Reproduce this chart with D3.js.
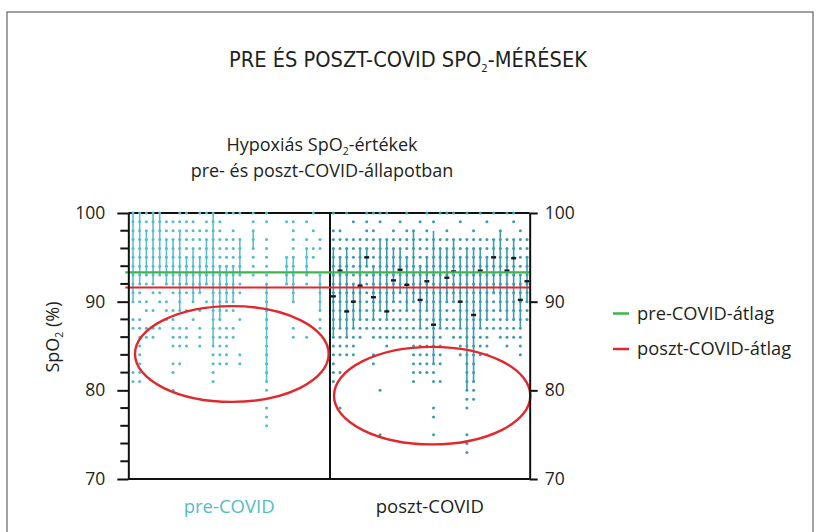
<!DOCTYPE html>
<html>
<head>
<meta charset="utf-8">
<script src="https://cdn.jsdelivr.net/npm/d3@7"></script>
<style>
    body { margin: 0; background: #fff; }
    text { font-family: "Open Sans", "Noto Sans", sans-serif; fill: #231f20; }
</style>
</head>
<body>
<div id="spo2Chart"></div>
<script>
// Readings per patient column: "a-b" means every whole value from a down to b
var preDots = [
    "100-90,88,87,82,81", "100-90,88-81", "100-92,90,89,87,86", "100-91,89,87,86", "100-93,91,90,87",
    "99-92,90,89,88", "99-91,89-85,83,82,80", "100-89,87,86,85,83", "100-91,89,87,86,85", "99-90,88",
    "100,98-91,89,87,86,85", "100-92,90", "100-81", "99-83", "100,97-89,87-83",
    "100,98-89,87,86", "100,97-91,88,84,83", "", "100,99,98-93", "",
    "100,99,97-80,78,77,76", "", "", "99,95-92", "99-90,87,86",
    "", "99,97-92,86", "100,98,96,95", "97,96,93-87", ""
];
var preLines = [
    [100, 90], [100, 92], [98, 93], [100, 92], [100, 93],
    [97, 92], [97, 92], [98, 89], [95, 92], [96, 90],
    [95, 91], [97, 92], [100, 85], [94, 88], [94, 90],
    [94, 90], [97, 93], null, [98, 96], null,
    [92, 81], null, null, [95, 92], [95, 90],
    null, [96, 93], null, [93, 89], null
];
var postDots = [
    "100,98-81", "98-84,82,78", "100,97-84", "99,97-84", "97-86",
    "100,99,98-87", "100,98-86,84,83", "100,99,97-86,80,75", "100,97-85", "98-86",
    "99,97-86", "100,98-86", "98-81", "99,97-82", "100,98-82",
    "99,97-81,78,77,75", "100,97-83,81", "100,98-87", "100,97-86", "99,97-84",
    "100,97-78,75,74,73", "98-79", "100,97-84", "99,97-84", "100,97-87",
    "98-86", "100,97-85", "100,99,97-86", "98-84", "97-88"
];
var postLines = [
    [96, 86], [95, 87], [96, 86], [92, 87], [96, 88],
    [96, 94], [94, 88], [97, 89], [97, 88], [96, 90],
    [96, 91], [95, 89], [98, 90], [94, 87], [95, 89],
    [98, 83], [96, 87], [96, 90], [97, 90], [95, 87],
    [96, 80], [96, 81], [96, 87], [95, 88], [97, 91],
    [98, 89], [96, 88], [97, 88], [93, 87], [95, 90]
];
var postMeans = [
    90.6, 93.5, 88.9, 90.0, 91.8,
    95.0, 90.5, null, 88.9, 92.4,
    93.6, 91.9, null, 90.2, 92.3,
    87.4, null, 92.7, 93.4, 90.0,
    null, 88.5, 93.5, null, 95.0,
    null, 93.5, 94.9, 90.2, 92.3
];

// Group averages and labels
var averageValues = [93.3, 91.6];
var averageColors = ["#3db54a", "#e2272d"];
var legendLabels = ["pre-COVID-átlag", "poszt-COVID-átlag"];
var groupLabels = ["pre-COVID", "poszt-COVID"];
var majorTicks = [70, 80, 90, 100];
var minorTicks = [72, 74, 76, 78, 82, 84, 86, 88, 92, 94, 96, 98];

// Highlighted hypoxic zones: centre [column, SpO2] and half-size [columns, SpO2]
var zoneCentres = [[14.8, 84.1], [44.8, 79.4]];
var zoneHalfSizes = [[14.5, 5.4], [14.7, 5.5]];

// Setting chart parameters
var properties = { width: 820, height: 532 };

var svg = d3.select("#spo2Chart")
    .append("svg")
    .attr("width", properties.width)
    .attr("height", properties.height);

// Outer frame
svg.append("rect")
    .attr("x", 7).attr("y", 12)
    .attr("width", 806).attr("height", 560)
    .attr("fill", "none")
    .attr("stroke", "#444")
    .attr("stroke-width", 1);

// Scales: one column per patient, pre-COVID 0-29 and poszt-COVID 30-59
var x = d3.scaleLinear().domain([0, 59]).range([133, 527]);
var y = d3.scaleLinear().domain([70, 100]).range([479, 213]);
var leftEdge = x(-0.7), rightEdge = x(59.4), divider = x(29.5);

// Expanding "a-b" notation into single readings
function parseDots(spec) {
    var values = [];
    if (!spec) return values;
    spec.split(",").forEach(function (part) {
        var ends = part.split("-").map(Number);
        if (ends.length === 1) { values.push(ends[0]); return; }
        for (var v = ends[0]; v >= ends[1]; v--) values.push(v);
    });
    return values;
}

var dots = [];
preDots.forEach(function (s, i) { parseDots(s).forEach(function (v) { dots.push({ col: i, value: v, post: false }); }); });
postDots.forEach(function (s, i) { parseDots(s).forEach(function (v) { dots.push({ col: 30 + i, value: v, post: true }); }); });

var ranges = [];
preLines.forEach(function (r, i) { if (r) ranges.push({ col: i, top: r[0], bottom: r[1], post: false }); });
postLines.forEach(function (r, i) { if (r) ranges.push({ col: 30 + i, top: r[0], bottom: r[1], post: true }); });

var means = [];
postMeans.forEach(function (m, i) { if (m !== null) means.push({ col: 30 + i, value: m }); });

// Plot frame: top, bottom and divider
var frame = svg.append("g").attr("stroke", "#111").attr("stroke-width", 2);
frame.append("line").attr("x1", leftEdge).attr("x2", rightEdge).attr("y1", y(100)).attr("y2", y(100));
frame.append("line").attr("x1", leftEdge).attr("x2", rightEdge).attr("y1", y(70)).attr("y2", y(70));
frame.append("line").attr("x1", divider).attr("x2", divider).attr("y1", y(100)).attr("y2", y(70));

// Vertical ranges
svg.append("g").selectAll("line")
    .data(ranges)
    .enter()
    .append("line")
    .attr("x1", function (d) { return x(d.col); })
    .attr("x2", function (d) { return x(d.col); })
    .attr("y1", function (d) { return y(d.top); })
    .attr("y2", function (d) { return y(d.bottom); })
    .attr("stroke", function (d) { return d.post ? "#3c9db0" : "#5bc0d0"; })
    .attr("stroke-width", 1.6);

// Single readings
svg.append("g").selectAll("circle")
    .data(dots)
    .enter()
    .append("circle")
    .attr("cx", function (d) { return x(d.col); })
    .attr("cy", function (d) { return y(d.value); })
    .attr("r", 1.5)
    .attr("fill", function (d) { return d.post ? "#3a9cae" : "#52bccc"; });

// Patient means in poszt-COVID
svg.append("g").selectAll("rect")
    .data(means)
    .enter()
    .append("rect")
    .attr("x", function (d) { return x(d.col) - 2.5; })
    .attr("y", function (d) { return y(d.value) - 1.2; })
    .attr("width", 5)
    .attr("height", 2.4)
    .attr("fill", "#1a1a1a");

// Average lines
svg.append("g").selectAll("line")
    .data(averageValues)
    .enter()
    .append("line")
    .attr("x1", leftEdge - 3)
    .attr("x2", rightEdge)
    .attr("y1", function (d) { return y(d); })
    .attr("y2", function (d) { return y(d); })
    .attr("stroke", function (d, i) { return averageColors[i]; })
    .attr("stroke-width", 2.2);

// Highlight ellipses
svg.append("g").selectAll("ellipse")
    .data(zoneCentres)
    .enter()
    .append("ellipse")
    .attr("cx", function (d) { return x(d[0]); })
    .attr("cy", function (d) { return y(d[1]); })
    .attr("rx", function (d, i) { return x(d[0] + zoneHalfSizes[i][0]) - x(d[0]); })
    .attr("ry", function (d, i) { return y(d[1] - zoneHalfSizes[i][1]) - y(d[1]); })
    .attr("fill", "none")
    .attr("stroke", "#e2272d")
    .attr("stroke-width", 2.4);

// Left axis minor ticks
svg.append("g")
    .attr("class", "minor-ticks")
    .selectAll("path")
    .data(minorTicks)
    .enter()
    .append("path")
    .attr("d", function (d) { return "M" + (leftEdge - 8) + "," + y(d) + "H" + leftEdge; })
    .attr("stroke", "#111")
    .attr("stroke-width", 2)
    .attr("fill", "none");

// Left axis with major ticks and labels
svg.append("g")
    .attr("transform", "translate(" + leftEdge + ",0)")
    .call(d3.axisLeft(y).tickValues(majorTicks).tickSize(11).tickSizeOuter(0).tickPadding(12))
    .call(function (g) {
        g.select(".domain").attr("stroke", "#111").attr("stroke-width", 2);
        g.selectAll("line").attr("stroke", "#111").attr("stroke-width", 2);
        g.selectAll("text").attr("font-size", 17.5).attr("font-family", null).attr("fill", "#231f20");
    });

// Right axis
svg.append("g")
    .attr("transform", "translate(" + rightEdge + ",0)")
    .call(d3.axisRight(y).tickValues(majorTicks).tickSize(8).tickSizeOuter(0).tickPadding(7))
    .call(function (g) {
        g.select(".domain").attr("stroke", "#111").attr("stroke-width", 2);
        g.selectAll("line").attr("stroke", "#111").attr("stroke-width", 2);
        g.selectAll("text").attr("font-size", 17.5).attr("font-family", null).attr("fill", "#231f20");
    });

// Title
var title = svg.append("text")
    .attr("x", 408).attr("y", 67)
    .attr("text-anchor", "middle")
    .attr("font-size", 21)
    .attr("textLength", 358)
    .attr("lengthAdjust", "spacingAndGlyphs")
    .style("font-family", "'Liberation Sans Narrow', 'DejaVu Sans Condensed', 'Open Sans', sans-serif");
title.append("tspan").text("PRE ÉS POSZT-COVID SPO");
title.append("tspan").attr("font-size", 11).attr("dy", 5).text("2");
title.append("tspan").attr("dy", -5).text("-MÉRÉSEK");

// Subtitle
var sub = svg.append("text").attr("x", 322).attr("y", 151).attr("text-anchor", "middle").attr("font-size", 18);
sub.append("tspan").text("Hypoxiás SpO");
sub.append("tspan").attr("font-size", 10.5).attr("dy", 4).text("2");
sub.append("tspan").attr("dy", -4).text("-értékek");
svg.append("text").attr("x", 322).attr("y", 176.5).attr("text-anchor", "middle").attr("font-size", 18)
    .text("pre- és poszt-COVID-állapotban");

// Y axis label
var yLabel = svg.append("text")
    .attr("transform", "translate(59,337) rotate(-90)")
    .attr("text-anchor", "middle")
    .attr("font-size", 18);
yLabel.append("tspan").text("SpO");
yLabel.append("tspan").attr("font-size", 10.5).attr("dy", 4).text("2");
yLabel.append("tspan").attr("dy", -4).text(" (%)");

// Group labels under the plot
svg.append("g").selectAll("text")
    .data(groupLabels)
    .enter()
    .append("text")
    .attr("x", function (d, i) { return i === 0 ? (leftEdge + divider) / 2 : (divider + rightEdge) / 2; })
    .attr("y", 513)
    .attr("text-anchor", "middle")
    .attr("font-size", 18.5)
    .style("fill", function (d, i) { return i === 0 ? "#52bccc" : "#231f20"; })
    .text(function (d) { return d; });

// Legend
var legend = svg.append("g").selectAll("g")
    .data(legendLabels)
    .enter()
    .append("g")
    .attr("transform", function (d, i) { return "translate(613," + (313.5 + i * 35.5) + ")"; });
legend.append("line")
    .attr("x1", 0).attr("x2", 16)
    .attr("stroke", function (d, i) { return averageColors[i]; })
    .attr("stroke-width", 2.5);
legend.append("text")
    .attr("x", 24).attr("y", 6)
    .attr("font-size", 18.3)
    .text(function (d) { return d; });
</script>
</body>
</html>
